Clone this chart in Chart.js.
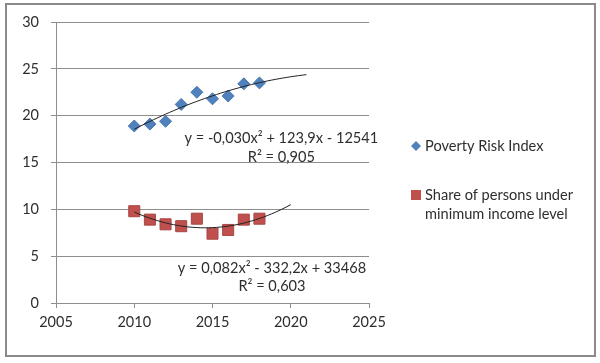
<!DOCTYPE html>
<html>
<head>
<meta charset="utf-8">
<script src="https://cdn.jsdelivr.net/npm/chart.js@4.4.0/dist/chart.umd.min.js"></script>
<style>
  body { margin: 0; background: #fff; }
</style>
</head>
<body>
<canvas id="chart" width="600" height="363"></canvas>
<script>
// data
const years = [2010, 2011, 2012, 2013, 2014, 2015, 2016, 2017, 2018];
const povertyRisk = [18.9, 19.1, 19.4, 21.2, 22.5, 21.8, 22.1, 23.4, 23.5];
const underMinIncome = [9.8, 8.9, 8.4, 8.2, 9.0, 7.4, 7.8, 8.9, 9.0];
const seriesNames = ['Poverty Risk Index', 'Share of persons under minimum income level'];
const trendText = [
  ['y = -0,030x² + 123,9x - 12541', 'R² = 0,905'],
  ['y = 0,082x² - 332,2x + 33468', 'R² = 0,603']
];
const trendEnd = [2021, 2020];
const xRange = [2005, 2025];
const yRange = [0, 30];

const FONT = 'Lato';
const TEXT = '#2e2e2e';
const GRID = '#8e8e8e';

// least squares quadratic trend (like Excel's polynomial trendline)
function quadFit(xs, ys) {
  const x0 = xs.reduce((a, b) => a + b, 0) / xs.length;
  const s = [0, 0, 0, 0, 0], t = [0, 0, 0];
  xs.forEach((x, i) => {
    const d = x - x0;
    for (let k = 0; k < 5; k++) s[k] += d ** k;
    for (let k = 0; k < 3; k++) t[k] += d ** k * ys[i];
  });
  const det = m => m[0][0] * (m[1][1] * m[2][2] - m[1][2] * m[2][1])
    - m[0][1] * (m[1][0] * m[2][2] - m[1][2] * m[2][0])
    + m[0][2] * (m[1][0] * m[2][1] - m[1][1] * m[2][0]);
  const M = [[s[0], s[1], s[2]], [s[1], s[2], s[3]], [s[2], s[3], s[4]]];
  const D = det(M);
  const coef = [0, 1, 2].map(c => det(M.map((row, r) => row.map((v, j) => j === c ? t[r] : v))) / D);
  return x => coef[0] + coef[1] * (x - x0) + coef[2] * (x - x0) ** 2;
}

function trendPoints(ys, end) {
  const f = quadFit(years, ys);
  const pts = [];
  for (let x = years[0]; x <= end + 1e-9; x += 0.25) pts.push({ x: x, y: f(x) });
  return pts;
}

const toPoints = ys => years.map((x, i) => ({ x: x, y: ys[i] }));

// outer frame, trend equations and the legend
const extras = {
  id: 'extras',
  beforeDraw(chart) {
    const c = chart.ctx;
    c.save();
    c.fillStyle = '#fff';
    c.fillRect(0, 0, chart.width, chart.height);
    c.strokeStyle = '#8a8a8a';
    c.lineWidth = 2;
    c.strokeRect(6, 4, 589, 352);
    c.restore();
  },
  afterDatasetsDraw(chart) {
    const c = chart.ctx;
    const xs = chart.scales.x, ys = chart.scales.y;
    c.save();
    c.font = '14.6px ' + FONT;
    c.fillStyle = TEXT;
    c.textAlign = 'center';
    c.textBaseline = 'middle';
    // equation labels placed in data units
    const anchors = [[2019.4, 17.6, 15.6], [2018.8, 3.67, 1.75]];
    anchors.forEach((a, i) => {
      c.fillText(trendText[i][0], xs.getPixelForValue(a[0]), ys.getPixelForValue(a[1]));
      c.fillText(trendText[i][1], xs.getPixelForValue(a[0]), ys.getPixelForValue(a[2]));
    });

    // legend
    c.textAlign = 'left';
    const lx = 425;
    const rows = [146, 195];
    chart.data.datasets.slice(0, 2).forEach((ds, i) => {
      const y = rows[i];
      c.fillStyle = ds.backgroundColor;
      if (i === 0) {
        c.beginPath();
        c.moveTo(416, y - 5); c.lineTo(421, y); c.lineTo(416, y + 5); c.lineTo(411, y);
        c.closePath(); c.fill();
      } else {
        c.fillRect(411, y - 5, 10, 10);
      }
      c.fillStyle = TEXT;
      // wrap long names
      const words = seriesNames[i].split(' ');
      const lines = [];
      let cur = '';
      words.forEach(w => {
        const test = cur ? cur + ' ' + w : w;
        if (c.measureText(test).width > 170 && cur) { lines.push(cur); cur = w; } else cur = test;
      });
      lines.push(cur);
      lines.forEach((ln, k) => c.fillText(ln, lx, y + k * 19));
    });
    c.restore();
  }
};

new Chart(document.getElementById('chart'), {
  type: 'scatter',
  data: {
    datasets: [
      {
        label: seriesNames[0],
        data: toPoints(povertyRisk),
        backgroundColor: '#4f81bd',
        borderColor: '#4a78b0',
        borderWidth: 1,
        pointStyle: 'rectRot',
        pointRadius: 6,
        order: 1
      },
      {
        label: seriesNames[1],
        data: toPoints(underMinIncome),
        backgroundColor: '#c0504d',
        borderColor: '#a84542',
        borderWidth: 1,
        pointStyle: 'rect',
        pointRadius: 7.8,
        order: 1
      },
      {
        label: 'trend 1',
        data: trendPoints(povertyRisk, trendEnd[0]),
        showLine: true,
        borderColor: '#222',
        borderWidth: 1,
        pointRadius: 0,
        tension: 0,
        order: 0
      },
      {
        label: 'trend 2',
        data: trendPoints(underMinIncome, trendEnd[1]),
        showLine: true,
        borderColor: '#222',
        borderWidth: 1,
        pointRadius: 0,
        tension: 0,
        order: 0
      }
    ]
  },
  options: {
    responsive: false,
    animation: false,
    layout: { padding: { left: 0, top: 22, right: 231, bottom: 0 } },
    plugins: {
      legend: { display: false },
      tooltip: { enabled: false }
    },
    scales: {
      x: {
        type: 'linear',
        min: xRange[0],
        max: xRange[1],
        ticks: {
          stepSize: 5,
          padding: 6,
          color: TEXT,
          font: { family: FONT, size: 14.5 },
          callback: v => String(v)
        },
        grid: { drawOnChartArea: false, drawTicks: true, tickLength: 5, color: GRID },
        border: { color: GRID },
        afterFit: s => { s.height = 60; }
      },
      y: {
        min: yRange[0],
        max: yRange[1],
        ticks: {
          stepSize: 5,
          padding: 12,
          color: TEXT,
          font: { family: FONT, size: 14.5 }
        },
        grid: { color: GRID, tickLength: 5 },
        border: { color: GRID },
        afterFit: s => { s.width = 56; }
      }
    }
  },
  plugins: [extras]
});
</script>
</body>
</html>
